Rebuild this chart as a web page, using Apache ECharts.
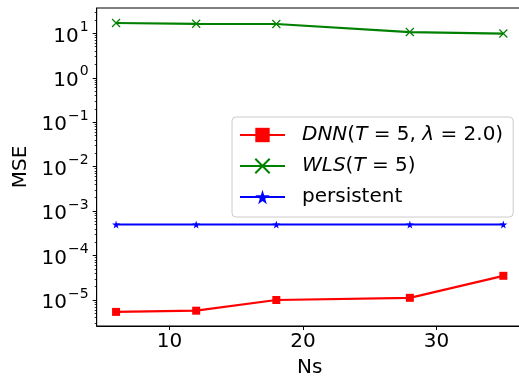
<!DOCTYPE html>
<html>
<head>
<meta charset="utf-8">
<script src="https://cdn.jsdelivr.net/npm/echarts@6/dist/echarts.min.js"></script>
<style>
html,body{margin:0;padding:0;background:#fff;}
#c{width:519px;height:379px;}
</style>
</head>
<body>
<div id="c"></div>
<script>
const ns = [6, 12, 18, 28, 35];
const dnn = [5.4e-6, 5.75e-6, 1.0e-5, 1.12e-5, 3.5e-5];
const wls = [17.1, 16.4, 16.2, 10.7, 9.9];
const persistent = [5e-4, 5e-4, 5e-4, 5e-4, 5e-4];
const xTickLabels = [10, 20, 30];
const yMajorExp = [-5, -4, -3, -2, -1, 0, 1];

const seriesNames = ['DNN', 'WLS', 'persistent'];

const yMin = Math.pow(10, -5.585);
const yMax = Math.pow(10, 1.57);
const xMin = 4.55, xMax = 36.45;

const yMajor = yMajorExp.map(e => Math.pow(10, e));
const yMinor = [];
for (let e = -6; e <= 1; e++) {
  for (let k = 2; k <= 9; k++) {
    const v = k * Math.pow(10, e);
    if (v > yMin && v < yMax) yMinor.push(v);
  }
}

const FONT = 'DejaVu Sans';
const star = 'path://M50,0L61,35L98,35L68,57L79,91L50,70L21,91L32,57L2,35L39,35Z';
const cross = 'path://M0,0L10,10M10,0L0,10';

function supLabel(v) {
  const e = Math.round(Math.log10(v));
  const s = e < 0 ? '\u2212' + (-e) : String(e);
  return '{b|10}{s|' + s + '}';
}

const chart = echarts.init(document.getElementById('c'), null, {renderer: 'canvas'});
chart.setOption({
  animation: false,
  backgroundColor: '#fff',
  textStyle: {fontFamily: FONT},
  grid: {left: 96.7, top: 8, width: 426, height: 318, show: true, borderColor: '#000', borderWidth: 1, containLabel: false, outerBoundsMode: 'none'},
  xAxis: {
    type: 'value', min: xMin, max: xMax,
    name: 'Ns', nameLocation: 'middle', nameGap: 32,
    nameTextStyle: {fontSize: 20, color: '#000', fontFamily: FONT},
    axisLine: {show: true, lineStyle: {color: '#000', width: 1}},
    axisTick: {show: true, length: 4, lineStyle: {color: '#000'}, customValues: xTickLabels},
    axisLabel: {fontSize: 20, color: '#000', fontFamily: FONT, margin: 6, customValues: xTickLabels},
    splitLine: {show: false}
  },
  yAxis: [{
    type: 'log', logBase: 10, min: yMin, max: yMax,
    name: 'MSE', nameLocation: 'middle', nameGap: 66, nameRotate: 90,
    nameTextStyle: {fontSize: 20, color: '#000', fontFamily: FONT},
    axisLine: {show: true, lineStyle: {color: '#000', width: 1}},
    axisTick: {show: true, length: 4, lineStyle: {color: '#000'}, customValues: yMajor},
    axisLabel: {
      margin: 8, customValues: yMajor, formatter: supLabel,
      rich: {
        b: {fontSize: 20, color: '#000', fontFamily: FONT, lineHeight: 26, verticalAlign: 'bottom'},
        s: {fontSize: 14, color: '#000', fontFamily: FONT, lineHeight: 26, verticalAlign: 'top', padding: [0, 0, 0, 1]}
      }
    },
    splitLine: {show: false}
  }, {
    type: 'log', logBase: 10, min: yMin, max: yMax, position: 'left',
    axisLine: {show: false},
    axisTick: {show: true, length: 2, lineStyle: {color: '#000', width: 0.8}, customValues: yMinor},
    axisLabel: {show: false},
    splitLine: {show: false}
  }],
  legend: {
    orient: 'vertical', left: 232, top: 117,
    padding: [6, 10, 8, 7],
    itemWidth: 45, itemHeight: 18, itemGap: 7,
    backgroundColor: 'rgba(255,255,255,0.8)', borderColor: '#cccccc', borderWidth: 1, borderRadius: 4,
    data: seriesNames,
    formatter: function (name) {
      if (name === 'DNN') return '{i|DNN}{n|(}{i|T}{n| = 5, }{i|λ}{n| = 2.0)}';
      if (name === 'WLS') return '{i|WLS}{n|(}{i|T}{n| = 5)}';
      return '{n|persistent}';
    },
    textStyle: {
      fontSize: 20, color: '#000', fontFamily: FONT, lineHeight: 24, padding: [0, 0, 0, 12],
      rich: {
        i: {fontSize: 20, fontStyle: 'italic', color: '#000', fontFamily: FONT, lineHeight: 24},
        n: {fontSize: 20, color: '#000', fontFamily: FONT, lineHeight: 24}
      }
    }
  },
  series: [{
    name: 'DNN', type: 'line', yAxisIndex: 0,
    data: ns.map((x, i) => [x, dnn[i]]),
    symbol: 'rect', symbolSize: 8,
    lineStyle: {color: '#ff0000', width: 2.2},
    itemStyle: {color: '#ff0000'}
  }, {
    name: 'WLS', type: 'line', yAxisIndex: 0,
    data: ns.map((x, i) => [x, wls[i]]),
    symbol: cross, symbolSize: 8,
    lineStyle: {color: '#008000', width: 2.2},
    itemStyle: {color: '#008000', borderColor: '#008000', borderWidth: 1.2}
  }, {
    name: 'persistent', type: 'line', yAxisIndex: 0,
    data: ns.map((x, i) => [x, persistent[i]]),
    symbol: star, symbolSize: 8,
    lineStyle: {color: '#0000ff', width: 2.2},
    itemStyle: {color: '#0000ff'}
  }]
});
</script>
</body>
</html>
